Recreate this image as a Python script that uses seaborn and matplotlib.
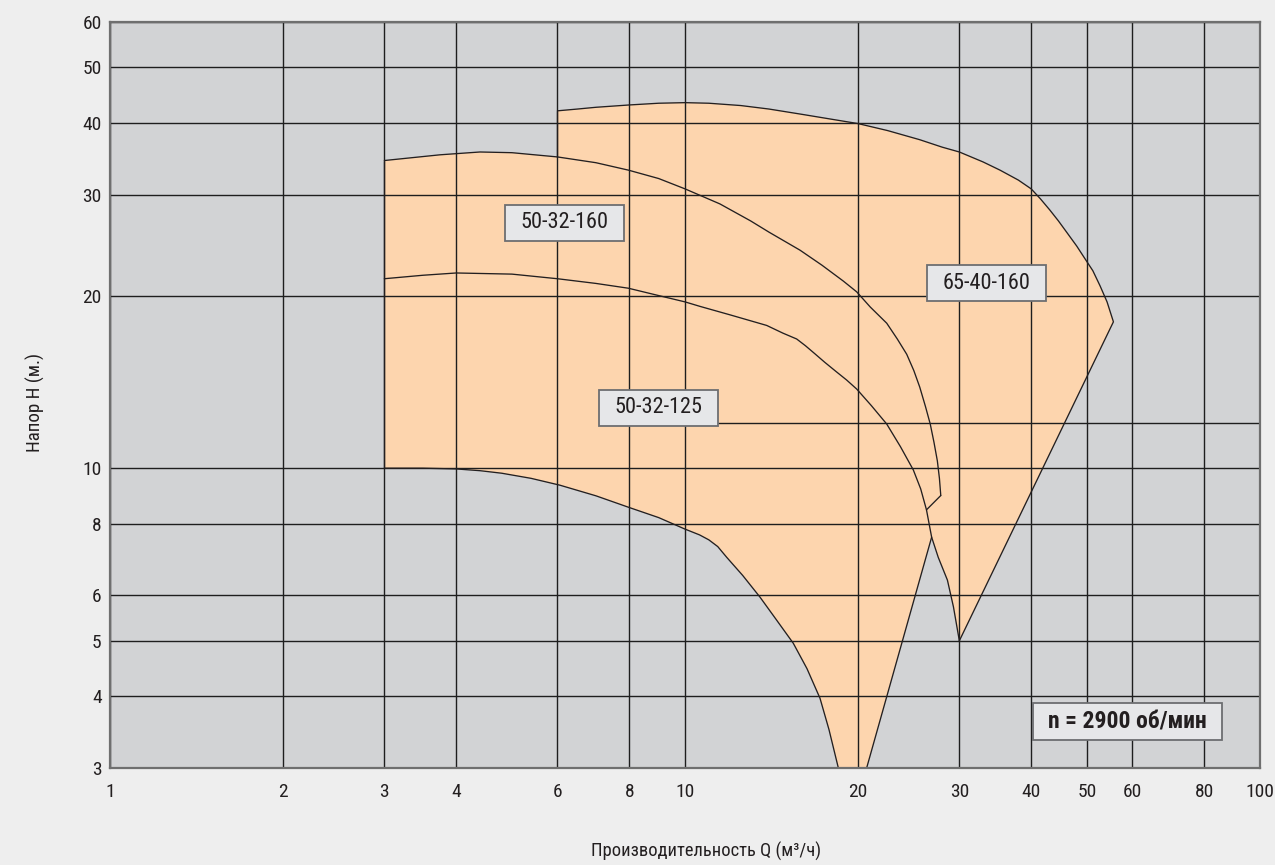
import matplotlib
matplotlib.use("Agg")
import numpy as np
import pandas as pd
import matplotlib.pyplot as plt
from matplotlib import font_manager as fm
from matplotlib.path import Path
from matplotlib.ticker import FixedLocator, FixedFormatter, NullLocator
import seaborn as sns

# ---- pump operating fields, Q in m3/h, H in m ----
# 50-32-160, largest impeller
q_160 = [3, 3.75, 4.4, 5, 6, 7, 7.97, 9, 10, 11.5, 13, 14, 15.85, 17.3,
         18.85, 19.89, 21, 22.43, 23.4, 24.3, 25, 25.6, 26.2, 26.7, 27.1,
         27.47, 27.7, 27.85]
h_160 = [34.4, 35.2, 35.6, 35.5, 34.9, 34.1, 33.1, 32.0, 30.7, 28.9, 27.0,
         25.8, 24.0, 22.6, 21.2, 20.3, 19.1, 17.9, 16.8, 15.8, 14.8, 13.85,
         12.8, 11.94, 11.1, 10.3, 9.6, 8.96]

# 50-32-125, largest impeller, continuing down to Q=30, H=5
q_125 = [3, 3.5, 4, 5, 6, 7, 7.97, 9, 10, 10.62, 12, 13.87, 14.8, 15.64,
         16.2, 16.8, 17.5, 18.3, 19.1, 19.89, 21.1, 22.43, 23.7, 24.95, 25.7,
         26.3, 26.85, 27.57, 28.6, 29.3, 30]
h_125 = [21.4, 21.7, 21.9, 21.8, 21.4, 21.0, 20.6, 20.0, 19.5, 19.15, 18.5,
         17.74, 17.2, 16.8, 16.35, 15.85, 15.3, 14.75, 14.25, 13.74, 12.85,
         11.94, 10.9, 9.93, 9.2, 8.46, 7.58, 6.99, 6.38, 5.73, 5.0]

# 65-40-160, largest impeller, then the run-out edge down to Q=30, H=5
q_6540 = [6, 6.5, 7, 8, 9, 10, 11, 12.5, 14, 16, 18, 20, 22.5, 25.6, 28,
          30, 33, 35.3, 38, 40, 41.5, 43.1, 44.6, 46.1, 48, 49.6, 51.2, 52.7,
          54.2, 55.6, 30]
h_6540 = [42.0, 42.3, 42.6, 43.0, 43.3, 43.4, 43.3, 42.9, 42.3, 41.4, 40.6,
          39.9, 38.8, 37.4, 36.3, 35.6, 34.2, 33.1, 31.8, 30.7, 29.5, 28.2,
          27.0, 25.8, 24.4, 23.2, 22.1, 20.8, 19.5, 18.0, 5.0]

# 50-32-125, smallest impeller
q_min = [3, 3.5, 4, 4.4, 4.8, 5.4, 6.06, 7, 7.97, 9, 10, 10.6, 11.0, 11.4,
         11.82, 12.6, 13.5, 14.4, 15.43, 16.3, 17.17, 17.8, 18.48, 18.6]
h_min = [10.0, 10.0, 9.97, 9.9, 9.8, 9.6, 9.34, 8.95, 8.55, 8.2, 7.83, 7.65,
         7.50, 7.30, 6.99, 6.5, 5.96, 5.45, 4.95, 4.47, 3.97, 3.5, 3.0, 2.9]

# efficiency limit of 50-32-125 and link between the 160/125 curve ends
q_limit = [26.85, 20.5]
h_limit = [7.58, 2.9]
q_link = [27.85, 26.3]
h_link = [8.96, 8.46]

# side walls of the field (minimum flow)
q_wall_3 = [3, 3]
h_wall_3 = [10.0, 34.4]
q_wall_6 = [6, 6]
h_wall_6 = [34.9, 42.0]

# pump labels
pump_names = ["50-32-160", "50-32-125", "65-40-160"]
pump_q = [6.17, 8.99, 33.4]
pump_h = [26.8, 12.75, 21.0]
speed_text = "n = 2900 об/мин"
speed_q, speed_h = 58.8, 3.61

x_ticks = [1, 2, 3, 4, 6, 8, 10, 20, 30, 40, 50, 60, 80, 100]
y_ticks = [3, 4, 5, 6, 8, 10, 20, 30, 40, 50, 60]
x_label = "Производительность Q (м³/ч)"
y_label = "Напор H (м.)"

FIELD = "#fdd5ae"
PLOT_BG = "#d2d3d5"
FIG_BG = "#eeeeee"
INK = "#231f20"
GRID = "#1e1e1e"


def _weight(entry):
    w = entry.weight
    if isinstance(w, str):
        w = fm.weight_dict.get(w.lower(), 400)
    return int(w)


def find_narrow(bold=False):
    """Look for an installed narrow / condensed sans face."""
    wanted = 700 if bold else 400
    prefs = ["Liberation Sans Narrow", "Roboto Condensed", "DejaVu Sans",
             "Open Sans Condensed", "Noto Sans"]
    for fam in prefs:
        for f in fm.fontManager.ttflist:
            stretch = str(f.stretch).lower()
            narrow = ("narrow" in f.name.lower() or "condensed" in f.name.lower()
                      or "condensed" in stretch or stretch in ("100", "75", "87"))
            if (f.name.startswith(fam) and narrow and f.style == "normal"
                    and abs(_weight(f) - wanted) <= 100
                    and "semi" not in stretch and "semi" not in f.name.lower()
                    and "extra" not in stretch):
                return fm.FontProperties(fname=f.fname)
    return fm.FontProperties(family="Liberation Sans",
                             weight="bold" if bold else "normal")


sns.set_theme(style="white")
plt.rcParams["font.family"] = ["Liberation Sans", "DejaVu Sans"]

font_reg = find_narrow(False)
font_bold = find_narrow(True)


def fp(base, size):
    p = base.copy()
    p.set_size(size)
    return p


W, H = 1275, 865
fig = plt.figure(figsize=(W / 100, H / 100), dpi=100, facecolor=FIG_BG)
ax = fig.add_axes([110 / W, 1 - 768 / H, 1150 / W, 746 / H])
ax.set_facecolor(PLOT_BG)
ax.set_xscale("log")
ax.set_yscale("log")
ax.set_xlim(1, 100)
ax.set_ylim(3, 60)

# combined operating field outline
i6 = q_160.index(6)
i_corner = q_125.index(26.85)
fill_q = (q_wall_3 + q_160[1:i6 + 1] + q_6540
          + q_125[:i_corner - 1:-1][1:] + q_limit[1:]
          + q_min[::-1][:-1])
fill_h = (h_wall_3 + h_160[1:i6 + 1] + h_6540
          + h_125[:i_corner - 1:-1][1:] + h_limit[1:]
          + h_min[::-1][:-1])
ax.fill(fill_q, fill_h, color=FIELD, lw=0, zorder=1)

# grid
ax.xaxis.set_major_locator(FixedLocator(x_ticks))
ax.xaxis.set_major_formatter(FixedFormatter([str(v) for v in x_ticks]))
ax.yaxis.set_major_locator(FixedLocator(y_ticks))
ax.yaxis.set_major_formatter(FixedFormatter([str(v) for v in y_ticks]))
ax.xaxis.set_minor_locator(NullLocator())
ax.yaxis.set_minor_locator(NullLocator())
ax.set_axisbelow(False)
ax.grid(True, which="major", color=GRID, lw=1.0, zorder=2)
ax.hlines(12, 11.4, 100, color=GRID, lw=1.0, zorder=2)

# curves
curves = [
    (q_160, h_160), (q_125, h_125), (q_6540, h_6540), (q_min, h_min),
    (q_limit, h_limit), (q_link, h_link), (q_wall_3, h_wall_3),
    (q_wall_6, h_wall_6),
]
for qs, hs in curves:
    df = pd.DataFrame({"Q": qs, "H": hs})
    sns.lineplot(data=df, x="Q", y="H", sort=False, estimator=None,
                 color=INK, lw=0.95, zorder=3, ax=ax)
ax.set_xlabel("")
ax.set_ylabel("")

# axes frame and tick labels
for sp in ax.spines.values():
    sp.set_color("#6f6f6f")
    sp.set_linewidth(1.6)
    sp.set_zorder(4)
ax.tick_params(axis="x", length=0, pad=10.5, labelcolor=INK)
ax.tick_params(axis="y", length=0, pad=6, labelcolor=INK)
for lab in ax.get_xticklabels() + ax.get_yticklabels():
    lab.set_fontproperties(fp(font_reg, 14))


def fixed_box(w_em, h_em):
    """Rectangle of a fixed size (in font-size units) centred on the text."""
    def style(x0, y0, width, height, mutation_size):
        cx, cy = x0 + width / 2, y0 + height / 2
        hw, hh = w_em * mutation_size / 2, h_em * mutation_size / 2
        verts = [(cx - hw, cy - hh), (cx + hw, cy - hh), (cx + hw, cy + hh),
                 (cx - hw, cy + hh), (cx - hw, cy - hh)]
        return Path(verts, closed=True)
    return style


for name, q, h in zip(pump_names, pump_q, pump_h):
    ax.text(q, h, name, ha="center", va="center", color=INK,
            fontproperties=fp(font_reg, 16), zorder=6,
            bbox=dict(boxstyle=fixed_box(5.36, 1.62), fc="#e6e7e9",
                      ec="#6d6e71", lw=1.3))

ax.text(speed_q, speed_h, speed_text, ha="center", va="center", color=INK,
        fontproperties=fp(font_bold, 17), zorder=6,
        bbox=dict(boxstyle=fixed_box(8.0, 1.57), fc="#e6e7e9",
                  ec="#6d6e71", lw=1.3))

fig.text(35 / W, 1 - 402 / H, y_label, rotation=90, ha="center",
         va="center", color=INK, fontproperties=fp(font_reg, 13.7))
fig.text(706 / W, 1 - 851 / H, x_label, ha="center", va="center",
         color=INK, fontproperties=fp(font_reg, 13.3))

fig.savefig("out.png", dpi=100, facecolor=FIG_BG)
